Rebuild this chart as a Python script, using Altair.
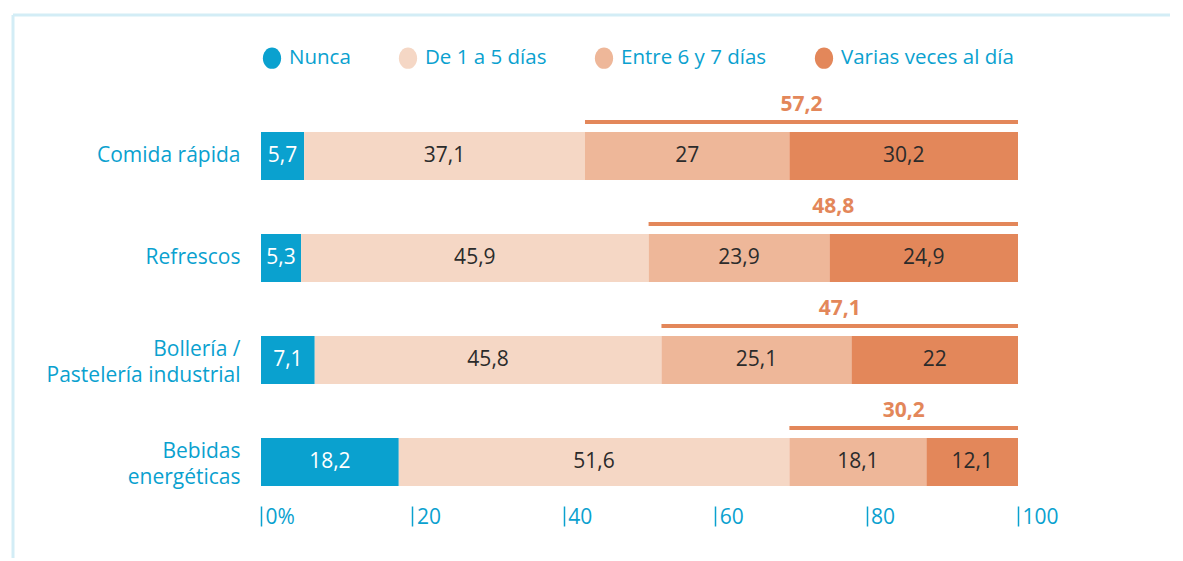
import altair as alt
import pandas as pd

categories = ["Comida rápida", "Refrescos", "Bollería / Pastelería industrial", "Bebidas energéticas"]
series = ["Nunca", "De 1 a 5 días", "Entre 6 y 7 días", "Varias veces al día"]
nunca = [5.7, 5.3, 7.1, 18.2]
de1a5 = [37.1, 45.9, 45.8, 51.6]
entre6y7 = [27, 23.9, 25.1, 18.1]
varias = [30.2, 24.9, 22, 12.1]
totals = [57.2, 48.8, 47.1, 30.2]
x_ticks = [0, 20, 40, 60, 80, 100]

colors = ["#0aa1cf", "#f5d7c5", "#eeb799", "#e3875a"]
BLUE = "#0aa1cf"
ORANGE = "#e3875a"
FONT = "Open Sans"
FS = 21

rows = []
for ci, c in enumerate(categories):
    for si, (s, vals) in enumerate(zip(series, [nunca, de1a5, entre6y7, varias])):
        rows.append({"cat": c, "serie": s, "value": vals[ci], "order": si})
df = pd.DataFrame(rows)
tot = pd.DataFrame({"cat": categories, "total": totals})

label_expr = ("datum.value == 'Bollería / Pastelería industrial' ? ['Bollería /', 'Pastelería industrial'] : "
              "datum.value == 'Bebidas energéticas' ? ['Bebidas', 'energéticas'] : datum.value")
two_line = "datum.value == 'Bollería / Pastelería industrial' || datum.value == 'Bebidas energéticas'"

y_enc = alt.Y("cat:N", sort=categories, title=None,
              scale=alt.Scale(paddingInner=0, paddingOuter=0),
              axis=alt.Axis(domain=False, ticks=False, tickSize=0, labelPadding=21,
                            labelFont=FONT, labelFontSize=FS, labelColor=BLUE,
                            labelLineHeight=26, labelExpr=label_expr, labelLimit=300,
                            labelOffset={"condition": {"test": two_line, "value": -10}, "value": 0}))
x_scale = alt.Scale(domain=[0, 100], nice=False)

base = alt.Chart(df).transform_stack(
    stack="value", groupby=["cat"], as_=["x0", "x1"], sort=[alt.SortField("order")]
)

oval = "M -0.85 0 A 0.85 1 0 1 1 0.85 0 A 0.85 1 0 1 1 -0.85 0 Z"

bars = base.mark_bar(size=48).encode(
    y=y_enc,
    x=alt.X("x0:Q", scale=x_scale, title=None,
            axis=alt.Axis(values=x_ticks, domain=False, grid=False, ticks=True, tickSize=20,
                          tickColor=BLUE, tickWidth=1.5, offset=-7,
                          labelAlign="left", labelBaseline="middle", labelPadding=-9, labelOffset=4,
                          labelFont=FONT, labelFontSize=FS, labelColor=BLUE,
                          labelExpr="datum.value == 0 ? '0%' : datum.label")),
    x2="x1:Q",
    color=alt.Color("serie:N", scale=alt.Scale(domain=series, range=colors),
                    legend=alt.Legend(title=None, orient="none", legendX=0, legendY=-58,
                                      direction="horizontal", symbolType=oval, symbolSize=460,
                                      symbolStrokeWidth=0, labelFont=FONT, labelFontSize=20.5,
                                      labelColor=BLUE, labelOffset=6, columnPadding=46,
                                      labelLimit=400)),
)

texts = base.transform_calculate(
    mid="(datum.x0 + datum.x1) / 2",
    lbl="replace(toString(datum.value), '.', ',')",
).mark_text(font=FONT, fontSize=FS).encode(
    y=y_enc,
    x=alt.X("mid:Q", scale=x_scale),
    text="lbl:N",
    color=alt.condition(alt.datum.serie == "Nunca", alt.value("white"), alt.value("#2b2b2b")),
)

tbase = alt.Chart(tot).transform_calculate(
    start="100 - datum.total",
    end="100",
    mid="(200 - datum.total) / 2",
    lbl="replace(toString(datum.total), '.', ',')",
)
sum_rule = tbase.mark_rule(color=ORANGE, strokeWidth=4, yOffset=-34).encode(
    y=y_enc, x=alt.X("start:Q", scale=x_scale), x2="end:Q"
)
sum_text = tbase.mark_text(color=ORANGE, font=FONT, fontSize=FS, fontWeight="bold", dy=-51).encode(
    y=y_enc, x=alt.X("mid:Q", scale=x_scale), text="lbl:N"
)

frame_df = pd.DataFrame({"k": [0]})
frame_top = alt.Chart(frame_df).mark_rule(color="#d3edf6", strokeWidth=3).encode(
    x=alt.value(-248), x2=alt.value(909), y=alt.value(-90)
)
frame_left = alt.Chart(frame_df).mark_rule(color="#d3edf6", strokeWidth=3).encode(
    x=alt.value(-248), y=alt.value(-90), y2=alt.value(453)
)

chart = alt.layer(frame_top, frame_left, bars, texts, sum_rule, sum_text).properties(
    width=757, height=408,
    autosize=alt.AutoSizeParams(type="none"),
    padding={"left": 253, "top": 97, "right": 155, "bottom": 45},
).configure_view(strokeWidth=0)

chart.save("out.html", embed_options={"renderer": "svg", "actions": False})
